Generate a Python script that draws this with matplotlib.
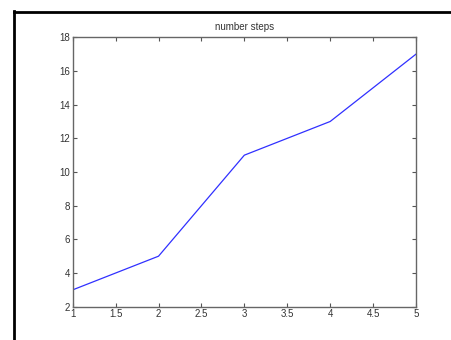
"""Line chart of number of steps"""
import matplotlib
matplotlib.use('Agg')
import matplotlib.pyplot as plt
from matplotlib.lines import Line2D

xs = [1, 2, 3, 4, 5]
steps = [3, 5, 11, 13, 17]
xticks = [1, 1.5, 2, 2.5, 3, 3.5, 4, 4.5, 5]
yticks = [2, 4, 6, 8, 10, 12, 14, 16, 18]


def main():
    plt.rcParams['font.family'] = 'Liberation Sans'
    fig = plt.figure(figsize=(4.52, 3.40), dpi=100)
    axes = fig.add_axes([72.7 / 452, 33.3 / 340, (416 - 72.7) / 452, (306.7 - 37.3) / 340])
    axes.plot(xs, steps, color='#3030ff', linewidth=0.9)
    axes.set_xlim(1, 5)
    axes.set_ylim(2, 18)
    axes.set_xticks(xticks)
    axes.set_xticklabels(['1', '1.5', '2', '2.5', '3', '3.5', '4', '4.5', '5'])
    axes.set_yticks(yticks)
    axes.set_yticklabels([str(v) for v in yticks])
    axes.tick_params(direction='in', length=3, width=0.8, colors='#555555',
                     labelcolor='#333333', labelsize=7, top=True, right=True, pad=2)
    for spine in axes.spines.values():
        spine.set_color('#666666')
        spine.set_linewidth(1.0)
    axes.set_title('number steps', fontsize=7, color='#333333', pad=5)

    # black frame round the picture
    fig.add_artist(Line2D([14.5 / 452, 14.5 / 452], [0, 1 - 11 / 340],
                          transform=fig.transFigure, color='black', linewidth=2))
    fig.add_artist(Line2D([14.5 / 452, 1], [1 - 11.5 / 340, 1 - 11.5 / 340],
                          transform=fig.transFigure, color='black', linewidth=2))
    fig.savefig('out.png', dpi=100)


if __name__ == "__main__":
    main()
